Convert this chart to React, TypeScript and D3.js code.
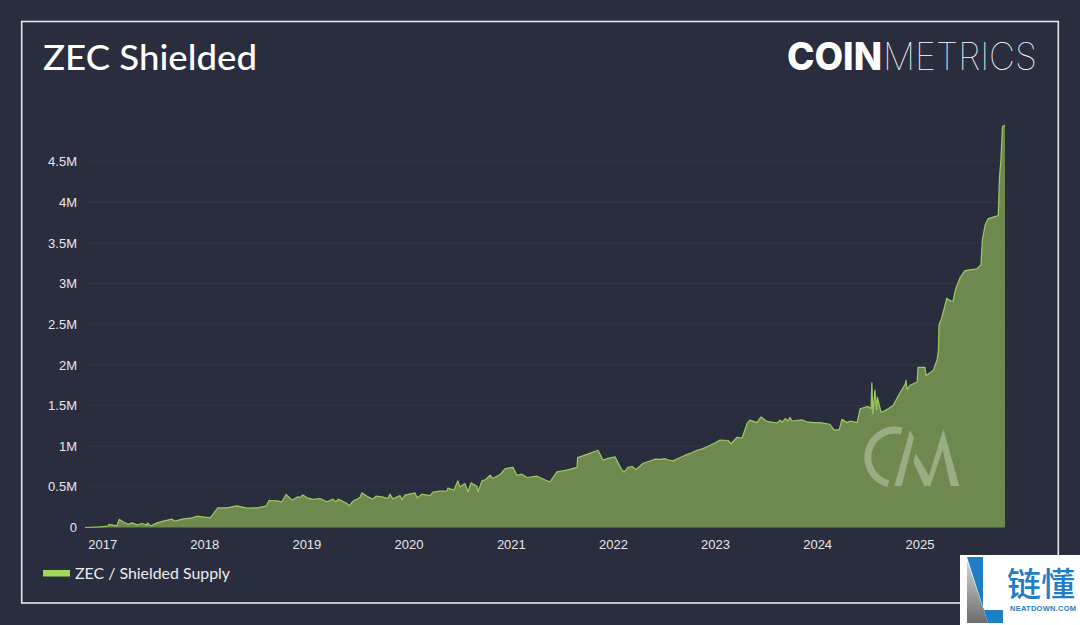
import React from "react";
import * as d3 from "d3";

const startDate = "2016-10-28";
const dayOffsets = [0,54,82,86,114,122,136,154,168,186,204,222,223,236,258,279,311,322,347,383,400,447,458,475,508,543,579,615,647,658,686,704,719,740,761,769,779,797,815,840,865,887,897,905,937,944,958,983,990,1008,1029,1040,1062,1083,1090,1101,1126,1133,1144,1180,1187,1205,1233,1244,1269,1294,1297,1319,1333,1340,1358,1369,1380,1401,1405,1419,1433,1448,1458,1484,1502,1530,1544,1562,1580,1616,1662,1687,1723,1759,1761,1795,1834,1852,1870,1895,1916,1927,1941,1956,1970,1995,2038,2056,2074,2086,2102,2134,2153,2169,2188,2209,2227,2252,2270,2299,2310,2331,2349,2367,2377,2402,2417,2435,2449,2474,2485,2492,2503,2514,2520,2528,2563,2580,2603,2628,2663,2678,2696,2706,2724,2735,2760,2771,2799,2810,2813,2817,2824,2830,2833,2846,2867,2889,2914,2932,2935,2939,2950,2975,2978,3003,3007,3032,3046,3051,3053,3063,3081,3093,3103,3113,3128,3146,3188,3203,3208,3218,3229,3259,3265,3269,3274,3280,3289];
const shieldedSupply = [0,.008,.016,.04,.02,.1,.07,.04,.057,.033,.049,.029,.057,.02,.057,.078,.103,.078,.103,.119,.139,.119,.164,.242,.242,.267,.238,.242,.262,.332,.328,.316,.406,.336,.377,.37,.4,.361,.345,.357,.316,.349,.316,.349,.295,.266,.324,.369,.426,.385,.349,.385,.377,.357,.41,.352,.393,.344,.398,.426,.365,.41,.393,.434,.447,.451,.484,.459,.574,.5,.541,.439,.549,.508,.44,.574,.59,.643,.603,.652,.725,.74,.643,.656,.615,.631,.56,.684,.705,.74,.86,.9,.95,.83,.85,.87,.727,.68,.74,.75,.715,.79,.84,.838,.846,.83,.82,.87,.9,.92,.95,.97,1,1.04,1.076,1.07,1.03,1.11,1.1,1.28,1.32,1.29,1.36,1.31,1.3,1.285,1.32,1.29,1.34,1.31,1.355,1.31,1.325,1.3,1.29,1.29,1.27,1.2,1.2,1.33,1.29,1.31,1.29,1.46,1.49,1.46,1.78,1.4,1.69,1.45,1.6,1.415,1.45,1.5,1.66,1.76,1.81,1.7,1.75,1.79,1.97,1.97,1.87,1.93,2.06,2.18,2.49,2.58,2.82,2.79,2.78,2.94,3.07,3.16,3.18,3.23,3.54,3.72,3.8,3.83,3.84,4.3,4.5,4.93,4.95];
const yTicks = [0,0.5,1,1.5,2,2.5,3,3.5,4,4.5];
const yTickLabels = ["0","0.5M","1M","1.5M","2M","2.5M","3M","3.5M","4M","4.5M"];
const xTickYears = [2017,2018,2019,2020,2021,2022,2023,2024,2025];

const BG = "#2a2d3e";
const GREEN = "#a4d65e";
const tickFont = "'Liberation Sans', Arial, sans-serif";

export default function App() {
  const start = new Date(startDate + "T00:00:00Z");
  const dates = dayOffsets.map((d) => d3.utcDay.offset(start, d));
  const x = d3.scaleUtc().domain([start, dates[dates.length - 1]]).range([85, 1005]);
  const y = d3.scaleLinear().domain([0, 5]).range([527.5, 121]);
  const idx = d3.range(dates.length);
  const area = d3.area<number>().x((i) => x(dates[i])).y0(y(0)).y1((i) => y(shieldedSupply[i]));
  const line = d3.line<number>().x((i) => x(dates[i])).y((i) => y(shieldedSupply[i]));
  return (
    <svg width={1080} height={625} viewBox="0 0 1080 625" style={{ position: "fixed", left: 0, top: 0, display: "block" }}>
      <defs>
        <linearGradient id="lg" x1="0" y1="0" x2="0" y2="1">
          <stop offset="0" stopColor="#d4d6d6" />
          <stop offset="1" stopColor="#6a6d6c" />
        </linearGradient>
      </defs>
      <rect width={1080} height={625} fill={BG} />
      <rect x={21.7} y={21.5} width={1036.6} height={581.5} fill="none" stroke="#e4e6ea" strokeWidth={1.6} />

      <text x={43} y={69.5} fontFamily="Lato" fontSize={35.5} fontWeight={500} fill="#fff" textLength={214} lengthAdjust="spacingAndGlyphs">ZEC Shielded</text>

      <text x={787} y={70} fontFamily="Inter, Lato" fontWeight={800} fontSize={38} fill="#fff" textLength={95} lengthAdjust="spacingAndGlyphs">COIN</text>
      <text x={883} y={70} fontFamily="Inter, Lato" fontWeight={100} fontSize={38} fill="#fff" textLength={154} lengthAdjust="spacingAndGlyphs">METRICS</text>

      {yTicks.map((t, i) => (
        <g key={t}>
          {t > 0 && <line x1={85} x2={1005} y1={y(t)} y2={y(t)} stroke="#33364a" strokeWidth={1} />}
          <text x={77} y={y(t) + 4.6} textAnchor="end" fontFamily={tickFont} fontSize={13} fill="#e6e7ea">{yTickLabels[i]}</text>
        </g>
      ))}

      <path d={area(idx) ?? ""} fill={GREEN} fillOpacity={0.55} />
      <path d={line(idx) ?? ""} fill="none" stroke={GREEN} strokeOpacity={0.9} strokeWidth={1.2} strokeLinejoin="round" />

      {xTickYears.map((yr) => (
        <text key={yr} x={x(new Date(Date.UTC(yr, 0, 1))) - 0.5} y={549} textAnchor="middle" fontFamily={tickFont} fontSize={13} fill="#e6e7ea">{yr}</text>
      ))}

      <g transform="translate(855,425) scale(0.3333)" fill="#fff" fillOpacity={0.3}>
        <path d="M140,18 A80,80 0 1 0 100,176" fill="none" stroke="#fff" strokeOpacity={0.3} strokeWidth={21} />
        <path d="M165,15 L177,38 L140,183 L118,183 Z" />
        <path d="M182,85 L222,152 L265,12 L313,183 L287,183 L263,75 L226,183 L208,183 L175,110 Z" />
      </g>

      <rect x={43} y={570} width={27} height={6.5} fill={GREEN} />
      <text x={75} y={578.5} fontFamily="Lato" fontSize={15.5} fill="#eceded" textLength={155} lengthAdjust="spacingAndGlyphs">ZEC / Shielded Supply</text>

      <rect x={960} y={555} width={120} height={70} fill="#fff" />
      <polygon points="967,560 988,623 967,623" fill="url(#lg)" />
      <polygon points="967,557 983,557 983,610 1003,610 1003,623 988,623" fill="#1f7fc6" />
      <text x={1007} y={596} fontFamily="'Noto Sans CJK SC'" fontSize={33} fontWeight={500} fill="#1f7fc6" textLength={68} lengthAdjust="spacingAndGlyphs">链懂</text>
      <text x={1010} y={611} fontFamily="'Liberation Sans'" fontSize={7.5} fontWeight={700} fill="#1f7fc6" textLength={66} lengthAdjust="spacing">NEATDOWN.COM</text>
    </svg>
  );
}
